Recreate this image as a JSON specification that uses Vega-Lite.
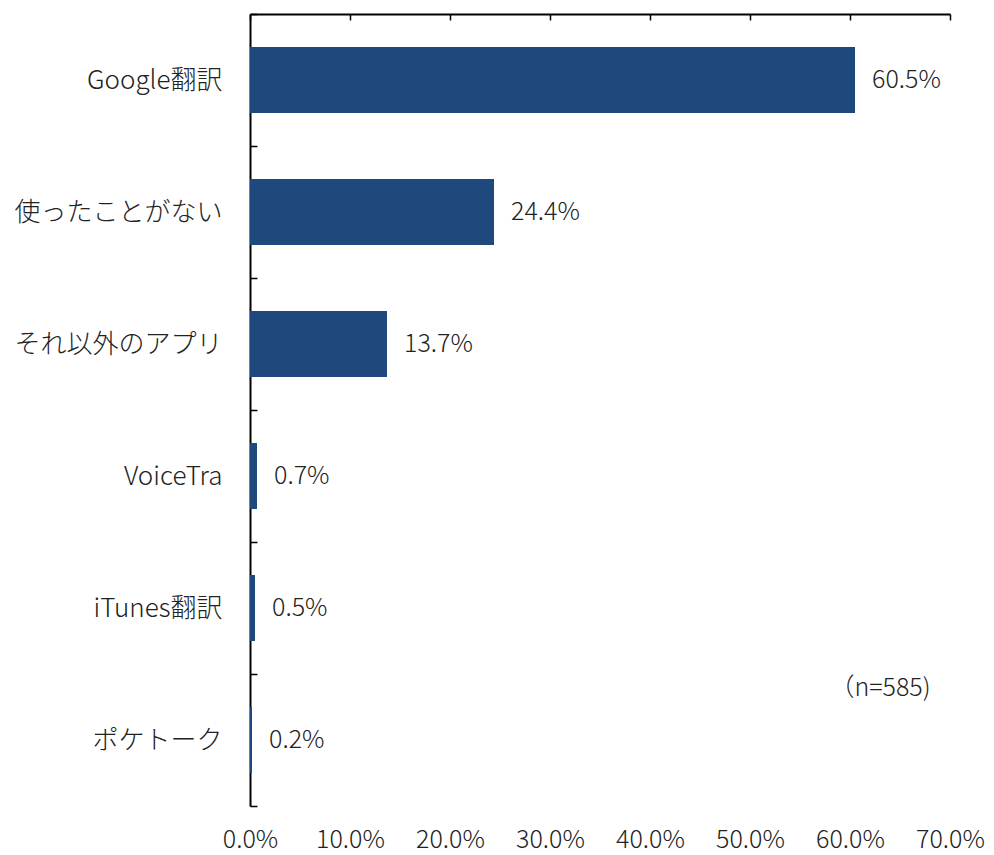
{
  "$schema": "https://vega.github.io/schema/vega-lite/v6.json",
  "autosize": "none",
  "width": 700,
  "height": 792,
  "padding": {"left": 250, "top": 14, "right": 44, "bottom": 49},
  "background": "white",
  "config": {
    "view": {"stroke": null},
    "font": "Noto Sans CJK JP",
    "axis": {"labelFont": "Noto Sans CJK JP", "labelFontWeight": 300, "labelFontSize": 25, "labelColor": "#222222", "labelLimit": 400, "domainColor": "#000000", "tickColor": "#000000", "domainWidth": 2, "tickWidth": 1.5, "grid": false, "title": null}
  },
  "data": {"values": [
    {"app": "Google翻訳", "share": 0.605},
    {"app": "使ったことがない", "share": 0.244},
    {"app": "それ以外のアプリ", "share": 0.137},
    {"app": "VoiceTra", "share": 0.007},
    {"app": "iTunes翻訳", "share": 0.005},
    {"app": "ポケトーク", "share": 0.002}
  ]},
  "encoding": {
    "y": {"field": "app", "type": "nominal", "sort": null,
      "scale": {"paddingInner": 0, "paddingOuter": 0},
      "axis": {"tickBand": "extent", "tickSize": -7, "labelPadding": 35, "labelFontSize": 26, "domainWidth": 2}}
  },
  "layer": [
    {
      "mark": {"type": "bar", "color": "#1F497D", "height": {"band": 0.5}},
      "encoding": {
        "x": {"field": "share", "type": "quantitative", "scale": {"domain": [0, 0.7]},
          "axis": {"orient": "top", "labels": false, "tickSize": -6, "values": [0, 0.1, 0.2, 0.3, 0.4, 0.5, 0.6, 0.7]}}
      }
    },
    {
      "mark": {"type": "text", "align": "left", "dx": 17, "fontSize": 25, "fontWeight": 300, "color": "#222222", "font": "Noto Sans CJK JP"},
      "encoding": {
        "x": {"field": "share", "type": "quantitative", "scale": {"domain": [0, 0.7]},
          "axis": {"orient": "bottom", "format": ".1%", "domain": false, "ticks": false, "labelPadding": 21, "labelFlush": false, "labelOverlap": false, "values": [0, 0.1, 0.2, 0.3, 0.4, 0.5, 0.6, 0.7]}},
        "text": {"field": "share", "type": "quantitative", "format": ".1%"}
      }
    },
    {
      "data": {"values": [{"note": "（n=585)", "xpos": 0.63, "cat": "ポケトーク"}]},
      "mark": {"type": "text", "align": "center", "dy": -52, "fontSize": 25, "fontWeight": 300, "color": "#222222", "font": "Noto Sans CJK JP"},
      "encoding": {
        "x": {"field": "xpos", "type": "quantitative", "axis": null},
        "y": {"field": "cat", "type": "nominal"},
        "text": {"field": "note"}
      }
    }
  ],
  "resolve": {"axis": {"x": "independent"}}
}
